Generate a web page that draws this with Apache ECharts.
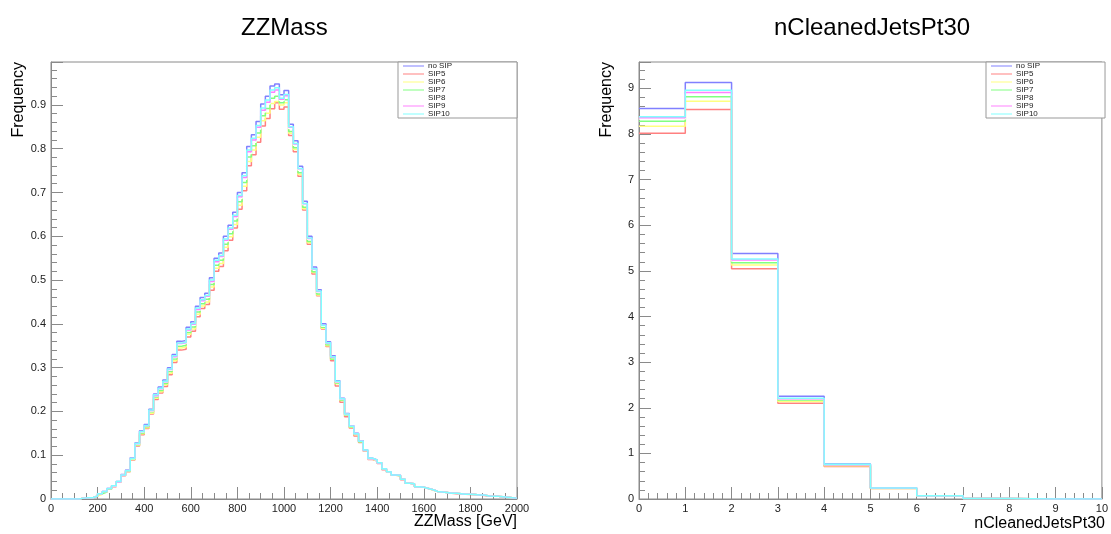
<!DOCTYPE html>
<html>
<head>
<meta charset="utf-8">
<script src="https://cdn.jsdelivr.net/npm/echarts@6/dist/echarts.min.js"></script>
<style>
html,body{margin:0;padding:0;background:#fff;}
#chart{width:1111px;height:534px;}
</style>
</head>
<body>
<div id="chart"></div>
<script>
// ---------------- data ----------------
const seriesNames = ['no SIP', 'SIP5', 'SIP6', 'SIP7', 'SIP8', 'SIP9', 'SIP10'];
const seriesColors = ['#8080ff', '#ff8080', '#ffff80', '#80ff80', '#ffffff', '#ff80ff', '#80ffff'];

// ZZMass histogram: 100 bins of 20 GeV from 0 to 2000
const massBinWidth = 20;
const massTicks = [0, 200, 400, 600, 800, 1000, 1200, 1400, 1600, 1800, 2000];
const zzNoSIP = [0,0,0,0,0,0,0.002,0.003,0.003,0.007,
 0.012,0.017,0.024,0.030,0.040,0.056,0.066,0.094,0.128,0.156,
 0.170,0.205,0.240,0.256,0.272,0.300,0.330,0.360,0.362,0.392,
 0.405,0.440,0.460,0.470,0.505,0.550,0.562,0.600,0.625,0.655,
 0.700,0.745,0.805,0.832,0.862,0.902,0.920,0.943,0.948,0.923,
 0.933,0.856,0.818,0.760,0.680,0.600,0.530,0.478,0.400,0.359,
 0.327,0.270,0.230,0.195,0.167,0.150,0.133,0.112,0.093,0.089,
 0.083,0.069,0.062,0.055,0.054,0.045,0.036,0.035,0.028,0.027,
 0.024,0.021,0.017,0.016,0.015,0.013,0.013,0.012,0.011,0.011,
 0.010,0.009,0.009,0.007,0.006,0.006,0.005,0.004,0.003,0.002];
const zzSIP5 = [0,0,0,0,0,0,0.002,0.003,0.003,0.006,
 0.011,0.016,0.023,0.028,0.038,0.053,0.062,0.089,0.121,0.147,
 0.161,0.194,0.227,0.242,0.257,0.284,0.312,0.340,0.342,0.370,
 0.383,0.416,0.435,0.444,0.477,0.520,0.531,0.567,0.591,0.619,
 0.662,0.704,0.761,0.786,0.815,0.852,0.869,0.891,0.905,0.890,
 0.895,0.830,0.793,0.737,0.660,0.582,0.514,0.464,0.388,0.348,
 0.316,0.258,0.221,0.188,0.162,0.144,0.129,0.109,0.090,0.087,
 0.081,0.067,0.061,0.054,0.053,0.044,0.036,0.034,0.028,0.027,
 0.024,0.021,0.017,0.016,0.015,0.013,0.012,0.012,0.011,0.010,
 0.010,0.009,0.008,0.007,0.006,0.006,0.005,0.004,0.003,0.002];
const zzSIP6 = [0,0,0,0,0,0,0.002,0.003,0.003,0.007,
 0.011,0.016,0.023,0.029,0.038,0.054,0.063,0.090,0.123,0.149,
 0.163,0.196,0.230,0.245,0.261,0.287,0.316,0.345,0.347,0.376,
 0.388,0.422,0.441,0.450,0.484,0.527,0.538,0.575,0.599,0.627,
 0.671,0.714,0.771,0.797,0.826,0.864,0.881,0.903,0.908,0.900,
 0.905,0.835,0.798,0.741,0.663,0.585,0.517,0.466,0.390,0.350,
 0.319,0.263,0.225,0.191,0.164,0.147,0.131,0.110,0.091,0.088,
 0.082,0.068,0.061,0.054,0.053,0.045,0.036,0.035,0.028,0.027,
 0.024,0.020,0.017,0.016,0.015,0.013,0.013,0.012,0.011,0.011,
 0.010,0.009,0.009,0.007,0.006,0.006,0.005,0.004,0.003,0.002];
const zzSIP7 = [0,0,0,0,0,0,0.002,0.003,0.003,0.007,
 0.012,0.016,0.023,0.029,0.039,0.054,0.064,0.091,0.124,0.151,
 0.165,0.199,0.233,0.248,0.264,0.291,0.320,0.349,0.351,0.380,
 0.393,0.427,0.446,0.456,0.490,0.534,0.545,0.582,0.606,0.635,
 0.679,0.723,0.781,0.807,0.836,0.875,0.892,0.915,0.920,0.905,
 0.912,0.839,0.802,0.745,0.666,0.588,0.519,0.468,0.392,0.352,
 0.320,0.265,0.226,0.192,0.165,0.148,0.131,0.111,0.092,0.088,
 0.082,0.068,0.062,0.055,0.053,0.045,0.036,0.035,0.028,0.027,
 0.024,0.021,0.017,0.016,0.015,0.013,0.013,0.012,0.011,0.011,
 0.010,0.009,0.009,0.007,0.006,0.006,0.005,0.004,0.003,0.002];
const zzSIP8 = [0,0,0,0,0,0,0.002,0.003,0.003,0.007,
 0.012,0.017,0.024,0.029,0.039,0.055,0.065,0.092,0.125,0.153,
 0.167,0.201,0.235,0.251,0.267,0.294,0.323,0.353,0.355,0.384,
 0.397,0.431,0.451,0.461,0.495,0.539,0.551,0.588,0.613,0.642,
 0.686,0.730,0.789,0.815,0.845,0.884,0.902,0.924,0.929,0.910,
 0.918,0.846,0.808,0.751,0.672,0.593,0.524,0.472,0.395,0.355,
 0.323,0.267,0.228,0.193,0.166,0.149,0.132,0.111,0.092,0.088,
 0.082,0.069,0.062,0.055,0.054,0.045,0.036,0.035,0.028,0.027,
 0.024,0.021,0.017,0.016,0.015,0.013,0.013,0.012,0.011,0.011,
 0.010,0.009,0.009,0.007,0.006,0.006,0.005,0.004,0.003,0.002];
const zzSIP9 = [0,0,0,0,0,0,0.002,0.003,0.003,0.007,
 0.012,0.017,0.024,0.030,0.039,0.055,0.065,0.093,0.126,0.154,
 0.167,0.202,0.236,0.252,0.268,0.296,0.325,0.355,0.357,0.386,
 0.399,0.433,0.453,0.463,0.497,0.542,0.554,0.591,0.616,0.645,
 0.690,0.734,0.793,0.820,0.849,0.888,0.906,0.929,0.934,0.913,
 0.921,0.849,0.811,0.754,0.674,0.595,0.525,0.474,0.397,0.356,
 0.324,0.268,0.229,0.194,0.166,0.149,0.132,0.111,0.092,0.089,
 0.082,0.069,0.062,0.055,0.054,0.045,0.036,0.035,0.028,0.027,
 0.024,0.021,0.017,0.016,0.015,0.013,0.013,0.012,0.011,0.011,
 0.010,0.009,0.009,0.007,0.006,0.006,0.005,0.004,0.003,0.002];
const zzSIP10 = [0,0,0,0,0,0,0.002,0.003,0.003,0.007,
 0.012,0.017,0.024,0.030,0.040,0.055,0.065,0.093,0.127,0.154,
 0.168,0.203,0.238,0.253,0.269,0.297,0.327,0.356,0.358,0.388,
 0.401,0.436,0.455,0.465,0.500,0.545,0.556,0.594,0.619,0.648,
 0.693,0.738,0.797,0.824,0.853,0.893,0.911,0.934,0.939,0.915,
 0.924,0.850,0.812,0.755,0.675,0.596,0.526,0.475,0.397,0.357,
 0.325,0.269,0.229,0.194,0.166,0.149,0.132,0.112,0.093,0.089,
 0.083,0.069,0.062,0.055,0.054,0.045,0.036,0.035,0.028,0.027,
 0.024,0.021,0.017,0.016,0.015,0.013,0.013,0.012,0.011,0.011,
 0.010,0.009,0.009,0.007,0.006,0.006,0.005,0.004,0.003,0.002];

// nCleanedJetsPt30 histogram: 10 bins of width 1 from 0 to 10
const jetsBinWidth = 1;
const jetsTicks = [0, 1, 2, 3, 4, 5, 6, 7, 8, 9, 10];
const jetsNoSIP = [8.56, 9.13, 5.38, 2.25, 0.77, 0.24, 0.07, 0.01, 0, 0];
const jetsSIP5  = [8.02, 8.54, 5.05, 2.10, 0.71, 0.23, 0.06, 0.01, 0, 0];
const jetsSIP6  = [8.17, 8.72, 5.13, 2.14, 0.73, 0.23, 0.06, 0.01, 0, 0];
const jetsSIP7  = [8.28, 8.82, 5.18, 2.17, 0.74, 0.24, 0.07, 0.01, 0, 0];
const jetsSIP8  = [8.33, 8.87, 5.22, 2.19, 0.75, 0.24, 0.07, 0.01, 0, 0];
const jetsSIP9  = [8.36, 8.91, 5.24, 2.20, 0.75, 0.24, 0.07, 0.01, 0, 0];
const jetsSIP10 = [8.38, 8.96, 5.26, 2.21, 0.76, 0.24, 0.07, 0.01, 0, 0];

const massSets = [zzNoSIP, zzSIP5, zzSIP6, zzSIP7, zzSIP8, zzSIP9, zzSIP10];
const jetSets = [jetsNoSIP, jetsSIP5, jetsSIP6, jetsSIP7, jetsSIP8, jetsSIP9, jetsSIP10];

// ---------------- chart ----------------
const FONT = 'Liberation Sans, Arial, Helvetica, sans-serif';
function histPoints(values, width) {
  const pts = values.map((v, i) => [i * width, v]);
  pts.push([values.length * width, values[values.length - 1]]);
  return pts;
}
function makeSeries(sets, width, axisIndex) {
  return sets.map((vals, k) => ({
    type: 'line',
    name: seriesNames[k],
    xAxisIndex: axisIndex,
    yAxisIndex: axisIndex,
    step: 'end',
    symbol: 'none',
    color: seriesColors[k],
    lineStyle: { color: seriesColors[k], width: 1.5 },
    data: histPoints(vals, width),
    z: 2 + k
  }));
}
const axisGray = '#8a8a8a';
function xAxisCfg(idx, min, max, interval) {
  return {
    type: 'value', gridIndex: idx, min: min, max: max, interval: interval,
    axisLine: { show: true, lineStyle: { color: axisGray, width: 1 } },
    axisTick: { show: true, inside: true, length: 12, lineStyle: { color: axisGray } },
    minorTick: { show: true, splitNumber: idx === 0 ? 4 : 5, length: 6, lineStyle: { color: axisGray } },
    splitLine: { show: false },
    axisLabel: { color: '#222', fontFamily: FONT, fontSize: 11, margin: 4, formatter: v => String(v) }
  };
}
function yAxisCfg(idx, max, interval) {
  return {
    type: 'value', gridIndex: idx, min: 0, max: max, interval: interval,
    axisLine: { show: true, lineStyle: { color: axisGray, width: 1 } },
    axisTick: { show: true, inside: true, length: 12, lineStyle: { color: axisGray } },
    minorTick: { show: true, splitNumber: 5, length: 6, lineStyle: { color: axisGray } },
    splitLine: { show: false },
    axisLabel: { color: '#222', fontFamily: FONT, fontSize: 11, margin: 5, showMaxLabel: false }
  };
}
function legendCfg(left) {
  return {
    data: seriesNames, orient: 'vertical', left: left, top: 62,
    padding: [0, 65, 0, 5], itemGap: 0, itemWidth: 21, itemHeight: 1, icon: 'rect',
    backgroundColor: '#fff', borderColor: '#999', borderWidth: 1, borderRadius: 0,
    textStyle: { fontFamily: FONT, fontSize: 8, lineHeight: 8, color: '#222', padding: [0, 0, 0, -1] },
    selectedMode: false
  };
}

const chart = echarts.init(document.getElementById('chart'), null, { renderer: 'canvas' });
chart.setOption({
  animation: false,
  backgroundColor: '#fff',
  title: [
    { text: 'ZZMass', left: 241, top: 16, padding: 0, textStyle: { fontFamily: FONT, fontSize: 24, fontWeight: 'normal', color: '#000' } },
    { text: 'nCleanedJetsPt30', left: 774, top: 16, padding: 0, textStyle: { fontFamily: FONT, fontSize: 24, fontWeight: 'normal', color: '#000' } }
  ],
  legend: [legendCfg(398), legendCfg(986)],
  grid: [
    { left: 51, top: 62, width: 466, height: 437, show: true, borderColor: axisGray, borderWidth: 1, backgroundColor: '#fff' },
    { left: 639, top: 62, width: 466, height: 437, show: true, borderColor: axisGray, borderWidth: 1, backgroundColor: '#fff' }
  ],
  xAxis: [
    xAxisCfg(0, massTicks[0], massTicks[massTicks.length - 1], massTicks[1] - massTicks[0]),
    xAxisCfg(1, jetsTicks[0], jetsTicks[jetsTicks.length - 1], jetsTicks[1] - jetsTicks[0])
  ],
  yAxis: [
    yAxisCfg(0, 0.998, 0.1),
    yAxisCfg(1, 9.58, 1)
  ],
  graphic: [
    { type: 'text', x: 19, y: 62, rotation: Math.PI / 2, style: { text: 'Frequency', font: '16px ' + FONT, fill: '#000', align: 'right', verticalAlign: 'middle' } },
    { type: 'text', x: 607, y: 62, rotation: Math.PI / 2, style: { text: 'Frequency', font: '16px ' + FONT, fill: '#000', align: 'right', verticalAlign: 'middle' } },
    { type: 'text', x: 517, y: 522, style: { text: 'ZZMass [GeV]', font: '16px ' + FONT, fill: '#000', align: 'right', verticalAlign: 'middle' } },
    { type: 'text', x: 1105, y: 524, style: { text: 'nCleanedJetsPt30', font: '16px ' + FONT, fill: '#000', align: 'right', verticalAlign: 'middle' } }
  ],
  series: makeSeries(massSets, massBinWidth, 0).concat(makeSeries(jetSets, jetsBinWidth, 1))
});
</script>
</body>
</html>
